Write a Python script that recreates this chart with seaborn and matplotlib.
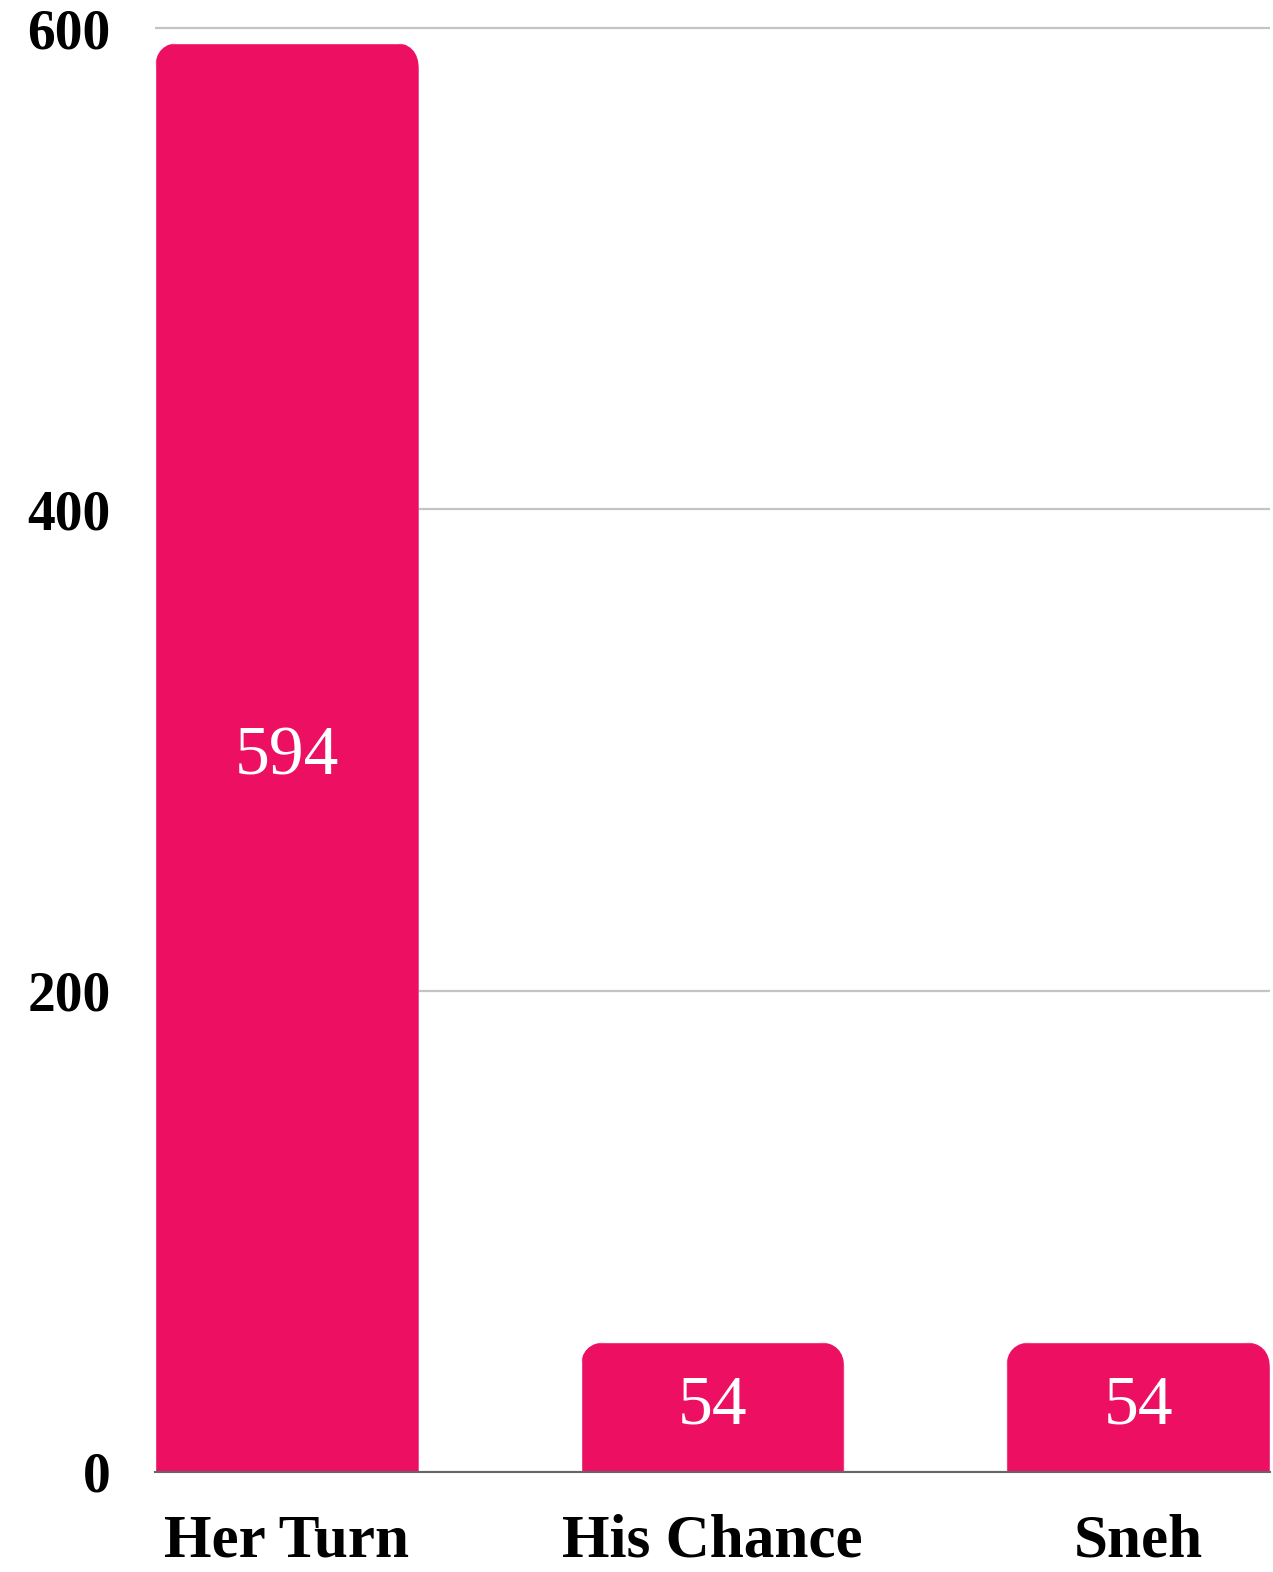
import matplotlib
matplotlib.use("Agg")
import matplotlib.pyplot as plt
from matplotlib.patches import FancyBboxPatch
import seaborn as sns
import pandas as pd

titles = ["Her Turn", "His Chance", "Sneh"]
counts = [594, 54, 54]
y_ticks = [0, 200, 400, 600]

df = pd.DataFrame({"title": titles, "count": counts})

sns.set_style("white")
plt.rcParams["font.family"] = ["Liberation Serif", "DejaVu Serif"]
plt.rcParams["text.color"] = "black"
plt.rcParams["xtick.color"] = "black"
plt.rcParams["ytick.color"] = "black"

fig = plt.figure(figsize=(12.73, 15.72), dpi=100)
ax = fig.add_axes([155 / 1273, 100 / 1572, 1115 / 1273, 1468 / 1572])

sns.barplot(data=df, x="title", y="count", color="#EC0F62", width=0.62,
            saturation=1, ax=ax, zorder=3)

ax.set_xlim(-0.31, 2.31)
ax.set_ylim(0, 610)

# round the top corners of each bar
px_x = 1115 / 2.62          # pixels per x unit
px_y = 1468 / 610           # pixels per y unit
radius = 27 / px_x
aspect = px_x / px_y
for bar in ax.patches:
    x0, w, h = bar.get_x(), bar.get_width(), bar.get_height()
    clip = FancyBboxPatch((x0, -100), w, h + 100,
                          boxstyle=f"round,pad=0,rounding_size={radius}",
                          mutation_aspect=aspect, transform=ax.transData,
                          facecolor="none", edgecolor="none")
    ax.add_patch(clip)
    bar.set_clip_path(clip)

ax.bar_label(ax.containers[0], labels=[str(c) for c in counts],
             label_type="center", color="white", fontsize=50)

ax.set_yticks(y_ticks)
ax.set_yticklabels([str(v) for v in y_ticks], fontsize=40, fontweight="bold",
                   color="black")
ax.tick_params(axis="y", length=0, pad=32)
ax.tick_params(axis="x", length=0, pad=30, labelsize=44, labelcolor="black")
for lbl in ax.get_xticklabels():
    lbl.set_fontweight("bold")

ax.set_xlabel("")
ax.set_ylabel("")
ax.yaxis.grid(True, color="#c4c4c4", linewidth=1.6, zorder=0)
ax.set_axisbelow(True)
for side in ["left", "right", "top"]:
    ax.spines[side].set_visible(False)
ax.spines["bottom"].set_color("#666666")
ax.spines["bottom"].set_linewidth(1.5)
ax.spines["bottom"].set_zorder(4)

fig.savefig("out.png", dpi=100)
